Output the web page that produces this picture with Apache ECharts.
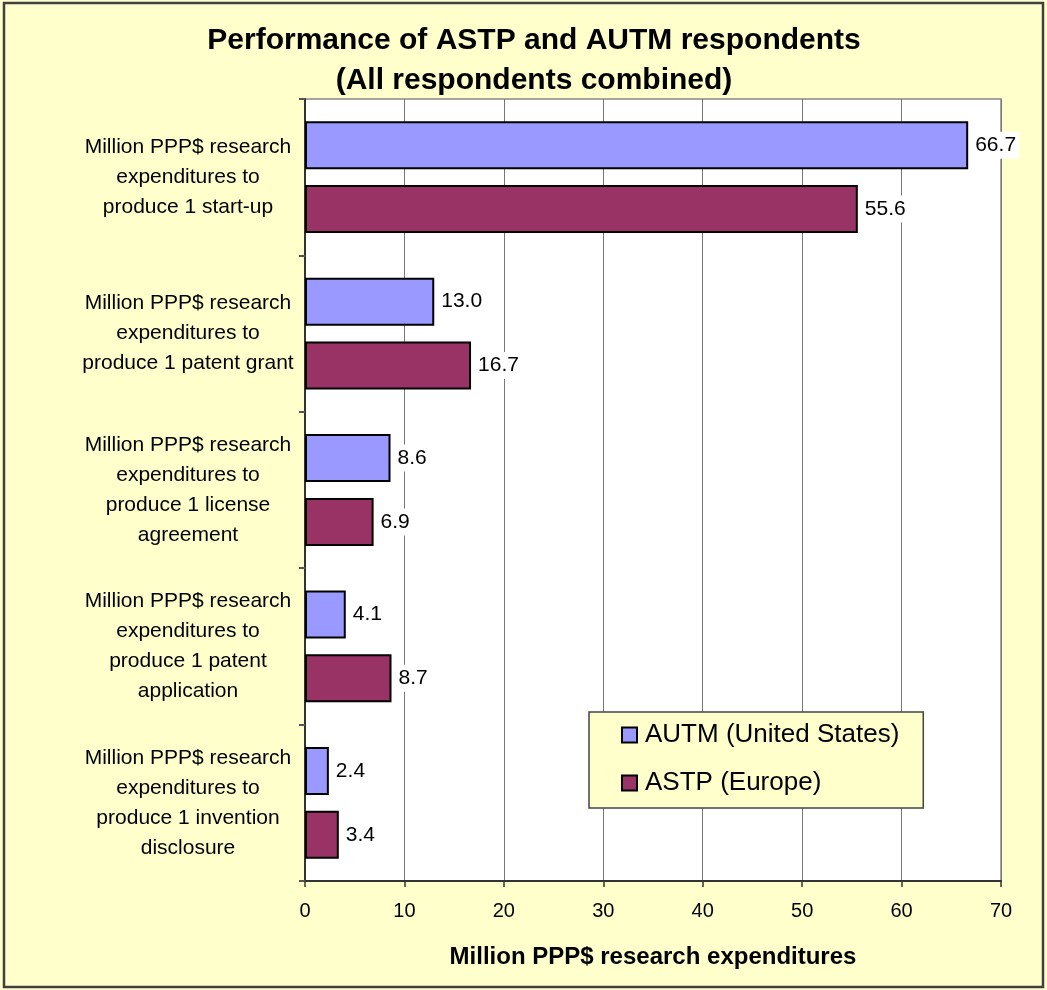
<!DOCTYPE html>
<html>
<head>
<meta charset="utf-8">
<script src="https://cdn.jsdelivr.net/npm/echarts@6/dist/echarts.min.js"></script>
<style>
    html, body { margin: 0; padding: 0; background: #FFFFCC; }
    #chart { width: 1047px; height: 990px; }
</style>
</head>
<body>
<div id="chart"></div>
<script>
// categories top to bottom
var categories = [
    'Million PPP$ research\nexpenditures to\nproduce 1 start-up',
    'Million PPP$ research\nexpenditures to\nproduce 1 patent grant',
    'Million PPP$ research\nexpenditures to\nproduce 1 license\nagreement',
    'Million PPP$ research\nexpenditures to\nproduce 1 patent\napplication',
    'Million PPP$ research\nexpenditures to\nproduce 1 invention\ndisclosure'
];
var autmValues = [66.7, 13.0, 8.6, 4.1, 2.4];
var astpValues = [55.6, 16.7, 6.9, 8.7, 3.4];
var xTicks = [0, 10, 20, 30, 40, 50, 60, 70];

var dom = document.getElementById('chart');
var myChart = echarts.init(dom);

var labelOption = {
    show: true,
    position: 'right',
    distance: 4,
    formatter: function (p) { return p.value.toFixed(1); },
    fontFamily: 'Liberation Sans',
    fontSize: 21,
    color: '#000',
    backgroundColor: '#fff',
    padding: [3, 3]
};

var option = {
    backgroundColor: '#FFFFCC',
    animation: false,
    textStyle: { fontFamily: 'Liberation Sans' },
    title: {
        text: 'Performance of ASTP and AUTM respondents\n(All respondents combined)',
        left: 529,
        top: 16,
        textAlign: 'center',
        textStyle: {
            fontFamily: 'Liberation Sans',
            fontWeight: 'bold',
            fontSize: 30,
            lineHeight: 40,
            color: '#000'
        }
    },
    legend: {
        orient: 'vertical',
        left: 589,
        top: 712,
        padding: [10, 24, 12, 32],
        itemGap: 22,
        itemWidth: 15,
        itemHeight: 15,
        icon: 'rect',
        backgroundColor: '#FFFFCC',
        borderColor: '#444',
        borderWidth: 1.5,
        textStyle: { fontFamily: 'Liberation Sans', fontSize: 26, color: '#000', padding: [0, 0, 0, 3] },
        data: ['AUTM (United States)', 'ASTP (Europe)']
    },
    grid: {
        left: 305,
        right: 46,
        top: 99,
        bottom: 109,
        show: true,
        backgroundColor: '#fff',
        borderColor: '#888',
        borderWidth: 1.5
    },
    xAxis: {
        type: 'value',
        min: 0,
        max: 70,
        interval: 10,
        name: 'Million PPP$ research expenditures',
        nameLocation: 'middle',
        nameGap: 64,
        nameTextStyle: { fontFamily: 'Liberation Sans', fontWeight: 'bold', fontSize: 24, color: '#000' },
        axisLine: { show: true, lineStyle: { color: '#333', width: 2 } },
        axisTick: { show: true, length: 6, lineStyle: { color: '#333', width: 1.5 } },
        axisLabel: {
            margin: 20,
            fontSize: 20,
            color: '#000',
            formatter: function (v) { return xTicks.indexOf(v) >= 0 ? String(v) : ''; }
        },
        splitLine: { show: true, lineStyle: { color: '#777', width: 1 } }
    },
    yAxis: {
        type: 'category',
        inverse: true,
        data: categories,
        axisLine: { show: true, lineStyle: { color: '#333', width: 2 } },
        axisTick: { show: true, length: 6, lineStyle: { color: '#555', width: 2 } },
        axisLabel: {
            align: 'center',
            margin: 117,
            fontSize: 21,
            lineHeight: 30,
            color: '#000'
        },
        splitLine: { show: false }
    },
    series: [{
            name: 'AUTM (United States)',
            type: 'bar',
            barWidth: 48,
            barGap: '33%',
            itemStyle: { color: '#9999FF', borderColor: '#000', borderWidth: 2 },
            label: labelOption,
            data: autmValues
        },
        {
            name: 'ASTP (Europe)',
            type: 'bar',
            barWidth: 48,
            barGap: '33%',
            itemStyle: { color: '#993366', borderColor: '#000', borderWidth: 2 },
            label: labelOption,
            data: astpValues
        }
    ],
    graphic: [{
        type: 'rect',
        shape: { x: 4, y: 3, width: 1039, height: 984 },
        style: { fill: null, stroke: '#404040', lineWidth: 2.5 },
        silent: true,
        z: 100
    }]
};

myChart.setOption(option, true);
</script>
</body>
</html>
